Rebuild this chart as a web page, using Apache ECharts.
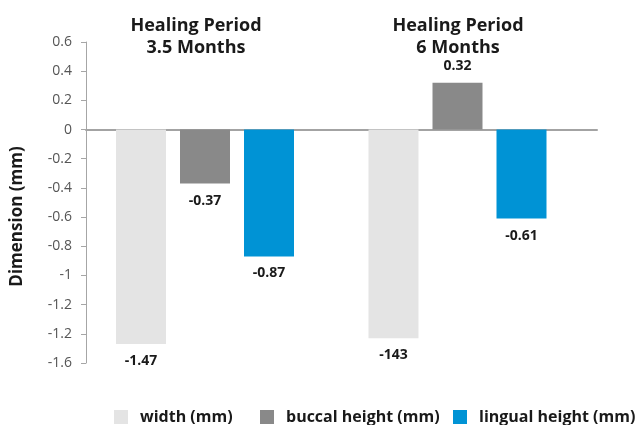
<!DOCTYPE html>
<html>
<head>
<meta charset="utf-8">
<title>Dimension change by healing period</title>
<script src="https://cdn.jsdelivr.net/npm/echarts@6/dist/echarts.min.js"></script>
<style>
  html, body { margin: 0; padding: 0; background: #ffffff; }
  #chart { width: 640px; height: 425px; }
</style>
</head>
<body>
<div id="chart"></div>
<script>
// Healing periods (one group of bars each)
const periods = ['Healing Period\n3.5 Months', 'Healing Period\n6 Months'];

// Measured changes in mm
const seriesNames = ['width (mm)', 'buccal height (mm)', 'lingual height (mm)'];
const widthValues = [-1.47, -1.43];
const buccalValues = [-0.37, 0.32];
const lingualValues = [-0.87, -0.61];

// Label texts as printed on the chart
const widthLabels = ['-1.47', '-143'];
const buccalLabels = ['-0.37', '0.32'];
const lingualLabels = ['-0.87', '-0.61'];

// Y-axis tick labels, from the bottom tick (-1.6) to the top tick (0.6)
const yTickLabels = ['-1.6', '-1.2', '-1.2', '-1', '-0.8', '-0.6', '-0.4', '-0.2', '0', '0.2', '0.4', '0.6'];

const colors = ['#e4e4e4', '#898989', '#0093d5'];
const FONT = '"Open Sans", "Noto Sans", sans-serif';

const chart = echarts.init(document.getElementById('chart'), null, { renderer: 'canvas' });

function makeSeries(name, values, labels, color) {
  return {
    name: name,
    type: 'bar',
    barWidth: 50,
    barGap: '28%',
    itemStyle: { color: color },
    data: values.map((v, i) => [i, v]),
    label: {
      show: true,
      position: 'outside',
      distance: 10,
      color: '#1a1a1a',
      fontFamily: FONT,
      fontWeight: 'bold',
      fontSize: 14,
      formatter: p => labels[p.dataIndex]
    }
  };
}

const legendBase = {
  top: 404,
  itemWidth: 14,
  itemHeight: 14,
  icon: 'rect',
  selectedMode: false,
  textStyle: {
    color: '#1a1a1a',
    fontFamily: FONT,
    fontWeight: 'bold',
    fontSize: 16,
    padding: [0, 0, 0, 7]
  }
};

// Group headings sit above the bars, centred on each group
const headingCenters = [196, 458];

const option = {
  animation: false,
  backgroundColor: '#ffffff',
  color: colors,
  grid: { left: 86, right: 43, top: 42, bottom: 62, containLabel: false },
  xAxis: {
    type: 'value',
    min: -0.4713,
    max: 1.5525,
    axisLine: { show: true, onZero: true, lineStyle: { color: '#a3a3a3', width: 2 } },
    axisTick: { show: false },
    axisLabel: { show: false },
    splitLine: { show: false }
  },
  yAxis: {
    type: 'value',
    min: -1.6,
    max: 0.6,
    interval: 0.2,
    name: 'Dimension (mm)',
    nameLocation: 'middle',
    nameGap: 60,
    nameTextStyle: {
      color: '#1a1a1a',
      fontFamily: FONT,
      fontWeight: 'bold',
      fontSize: 17,
      padding: [0, 28, 0, 0]
    },
    axisLine: { show: true, onZero: false, lineStyle: { color: '#a6a6a6', width: 1 } },
    axisTick: { show: true, length: 5, lineStyle: { color: '#a6a6a6' } },
    splitLine: { show: false },
    axisLabel: {
      margin: 14,
      color: '#555555',
      fontFamily: FONT,
      fontSize: 14,
      formatter: (value, index) => yTickLabels[index]
    }
  },
  legend: [
    Object.assign({}, legendBase, { left: 109, data: [seriesNames[0]] }),
    Object.assign({}, legendBase, { left: 255, data: [seriesNames[1]] }),
    Object.assign({}, legendBase, { left: 448, data: [seriesNames[2]] })
  ],
  graphic: periods.map((text, i) => ({
    type: 'text',
    x: headingCenters[i],
    y: 15,
    style: {
      text: text,
      fill: '#1a1a1a',
      font: 'bold 18px ' + FONT,
      align: 'center',
      textAlign: 'center',
      verticalAlign: 'top',
      lineHeight: 22
    }
  })),
  series: [
    makeSeries(seriesNames[0], widthValues, widthLabels, colors[0]),
    makeSeries(seriesNames[1], buccalValues, buccalLabels, colors[1]),
    makeSeries(seriesNames[2], lingualValues, lingualLabels, colors[2])
  ]
};

chart.setOption(option);
</script>
</body>
</html>
